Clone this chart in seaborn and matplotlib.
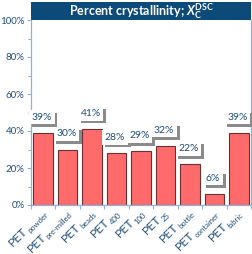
import matplotlib
matplotlib.use("Agg")
import numpy as np
import matplotlib.pyplot as plt
import matplotlib.patheffects as pe
from matplotlib.patches import Rectangle
from matplotlib.ticker import MultipleLocator, FixedLocator
import seaborn as sns
import pandas as pd

# data
samples = ["powder", "pre-milled", "beads", "400", "100", "25", "bottle", "container", "fabric"]
crystallinity = [39, 30, 41, 28, 29, 32, 22, 6, 39]
y_ticks = [0, 20, 40, 60, 80, 100]

text_blue = "#1F4E79"
axis_blue = "#8FB3D4"
bar_red = "#FF6B6B"

sns.set_style("white")
plt.rcParams["font.family"] = ["Lato", "DejaVu Sans"]
plt.rcParams["mathtext.fontset"] = "custom"
plt.rcParams["mathtext.rm"] = "Lato"
plt.rcParams["mathtext.it"] = "Lato:italic"
plt.rcParams["mathtext.bf"] = "Lato:bold"
plt.rcParams["mathtext.bfit"] = "Lato:bold:italic"
plt.rcParams["mathtext.default"] = "regular"

df = pd.DataFrame({"sample": samples, "pct": crystallinity})

fig = plt.figure(figsize=(2.53, 2.54), dpi=100)
ax = fig.add_axes([31 / 253, 1 - 205 / 254, 220 / 253, 185 / 254])

sns.barplot(data=df, x="sample", y="pct", ax=ax, color=bar_red, saturation=1,
            edgecolor="#6b3030", linewidth=0.8, width=0.8)

ax.set_xlim(-0.5, len(samples) - 0.5)
ax.set_ylim(0, 100)
ax.set_xlabel("")
ax.set_ylabel("")

# y axis
ax.yaxis.set_major_locator(FixedLocator(y_ticks))
ax.yaxis.set_minor_locator(MultipleLocator(10))
ax.set_yticklabels([f"{t}%" for t in y_ticks], fontsize=7, color=text_blue)
ax.tick_params(axis="y", which="major", length=3, width=0.8, color=axis_blue, pad=1.5, left=True)
ax.tick_params(axis="y", which="minor", length=2, width=0.8, color=axis_blue, left=True)

# x axis: ticks at category boundaries, rotated "PET + subscript" labels drawn by hand
ax.set_xticks(range(len(samples)))
ax.set_xticklabels([])
ax.tick_params(axis="x", which="major", length=0)
ax.xaxis.set_minor_locator(FixedLocator([i - 0.5 for i in range(len(samples) + 1)]))
ax.tick_params(axis="x", which="minor", length=3, width=0.8, color=axis_blue, bottom=True)

renderer = fig.canvas.get_renderer()
c45 = np.cos(np.radians(45))
for i, s in enumerate(samples):
    ax0, ay0 = 4, -7.5  # end of subscript, points from tick
    sub = ax.annotate(s, xy=(i, 0), xycoords=("data", "axes fraction"),
                      xytext=(ax0, ay0), textcoords="offset points",
                      ha="right", va="baseline", fontsize=5.5, color=text_blue,
                      annotation_clip=False)
    w = sub.get_window_extent(renderer).width * 72 / fig.dpi + 0.3
    sub.set_rotation(45)
    sub.set_rotation_mode("anchor")
    drop = 2.2
    px = ax0 - w * c45 - drop * c45
    py = ay0 - w * c45 + drop * c45
    ax.annotate("PET", xy=(i, 0), xycoords=("data", "axes fraction"),
                xytext=(px, py), textcoords="offset points", rotation=45,
                rotation_mode="anchor", ha="right", va="baseline",
                fontsize=8.8, color=text_blue, annotation_clip=False)

for side in ["left", "right", "bottom"]:
    ax.spines[side].set_visible(True)
    ax.spines[side].set_color(axis_blue)
    ax.spines[side].set_linewidth(0.9)
ax.spines["top"].set_visible(False)
ax.grid(False)

# value labels with shadowed boxes
for i, v in enumerate(crystallinity):
    t = ax.annotate(f"{v}%", xy=(i, v), xytext=(-1, 8), textcoords="offset points",
                    ha="center", va="bottom", fontsize=7.5, color=text_blue,
                    bbox=dict(boxstyle="square,pad=0.25", fc="white", ec="none"))
    t.get_bbox_patch().set_path_effects([
        pe.SimplePatchShadow(offset=(2, -2), shadow_rgbFace="#8a8a8a", alpha=1),
        pe.Normal()])

# title band
ax.add_patch(Rectangle((0, 1), 1, 18 / 185, transform=ax.transAxes, clip_on=False,
                       facecolor="#0C4A7A", edgecolor="none"))
ax.text(0.5, 1 + 9 / 185, r"Percent crystallinity; $\mathbfit{X}_{\mathbf{C}}^{\mathbf{DSC}}$",
        transform=ax.transAxes, ha="center", va="center", color="white",
        fontsize=9, fontweight="bold")

fig.savefig("out.png", dpi=100)
